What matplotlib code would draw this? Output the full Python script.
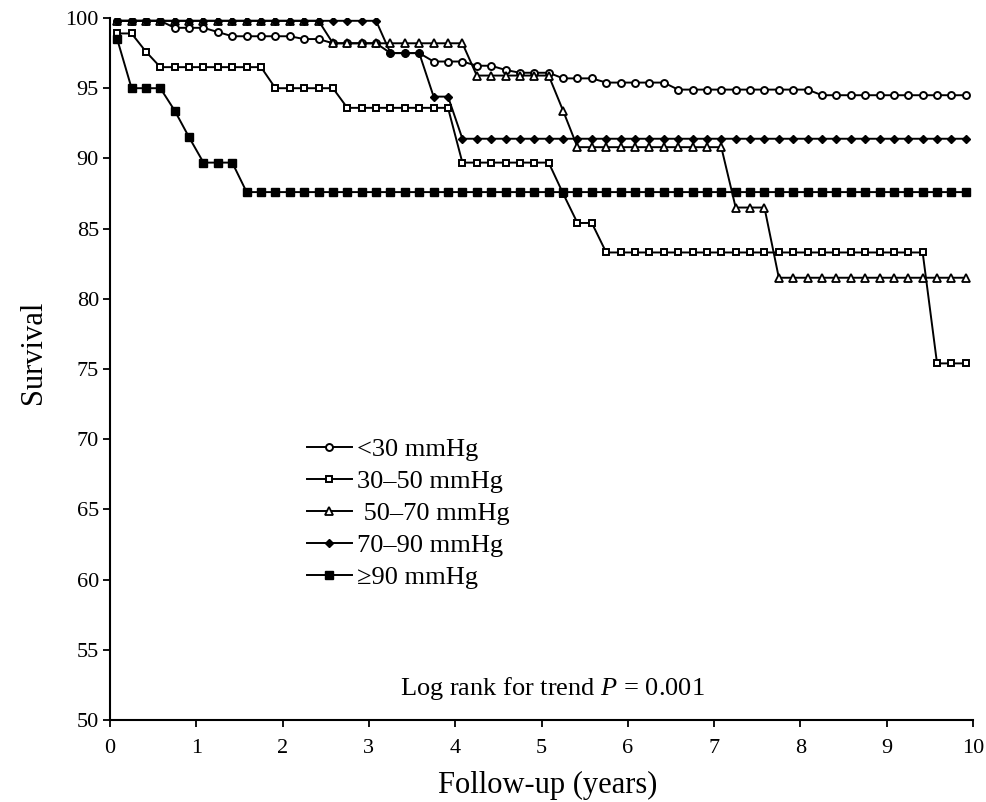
import matplotlib
matplotlib.use("Agg")
import matplotlib.pyplot as plt
import numpy as np

# follow-up sampled every 2 months (midpoints)
months = np.arange(1, 120, 2)
years = months / 12

# survival (%) per group
lt30 = [99.8] * 4 + [99.3] * 3 + [99.0] + [98.7] * 5 + [98.5] * 2 + [98.2] * 4 + \
       [97.5] * 3 + [96.9] * 3 + [96.6] * 2 + [96.3] + [96.1] * 3 + [95.7] * 3 + \
       [95.4] * 5 + [94.9] * 10 + [94.5] * 11
g30_50 = [98.9] * 2 + [97.6] + [96.5] * 8 + [95.0] * 5 + [93.6] * 8 + [89.7] * 7 + \
         [87.5] + [85.4] * 2 + [83.3] * 23 + [75.4] * 3
g50_70 = [99.8] * 15 + [98.2] * 10 + [95.9] * 6 + [93.4] + [90.8] * 11 + [86.5] * 3 + \
         [81.5] * 14
g70_90 = [99.8] * 19 + [97.5] * 3 + [94.4] * 2 + [91.4] * 36
ge90 = [98.5] + [95.0] * 3 + [93.4] + [91.5] + [89.7] * 3 + [87.6] * 51

labels = ["<30 mmHg", "30\u201350 mmHg", " 50\u201370 mmHg", "70\u201390 mmHg", "\u226590 mmHg"]
yticks = list(range(50, 101, 5))
xticks = list(range(0, 11))

plt.rcParams["font.family"] = ["Liberation Serif", "DejaVu Serif"]
plt.rcParams["mathtext.fontset"] = "custom"
plt.rcParams["mathtext.rm"] = "Liberation Serif"
plt.rcParams["mathtext.it"] = "Liberation Serif:italic"

fig = plt.figure(figsize=(9.86, 8.02), dpi=100)
ax = fig.add_axes([110 / 986, 1 - 720 / 802, 863 / 986, 702 / 802])

lw = 1.4
ax.plot(years, lt30, color="black", lw=lw, marker="o", ms=5, mfc="white", mec="black", mew=1.4, label=labels[0])
ax.plot(years, g30_50, color="black", lw=lw, marker="s", ms=5, mfc="white", mec="black", mew=1.4, label=labels[1])
ax.plot(years, g50_70, color="black", lw=lw, marker="^", ms=6, mfc="white", mec="black", mew=1.3, label=labels[2])
ax.plot(years, g70_90, color="black", lw=lw, marker="D", ms=4, mfc="black", mec="black", label=labels[3])
ax.plot(years, ge90, color="black", lw=lw, marker="s", ms=6, mfc="black", mec="black", label=labels[4])

ax.set_xlim(0, 10)
ax.set_ylim(50, 100)
ax.set_xticks(xticks)
ax.set_yticks(yticks)
ax.spines["top"].set_visible(False)
ax.spines["right"].set_visible(False)
ax.spines["left"].set_linewidth(1.5)
ax.spines["bottom"].set_linewidth(1.5)
ax.tick_params(axis="both", direction="out", length=5, width=1.3, labelsize=16)
ax.tick_params(axis="x", pad=9)
ax.tick_params(axis="y", pad=3)

ax.set_ylabel("Survival", fontsize=22)
ax.yaxis.set_label_coords(-0.072, 0.524)
ax.set_xlabel("Follow-up (years)", fontsize=22)
ax.xaxis.set_label_coords(0.5075, -0.073)

ax.legend(loc="upper left", bbox_to_anchor=(0.228, 0.402), frameon=False, fontsize=19,
          numpoints=1, handlelength=1.7, handletextpad=0.2, labelspacing=0.32,
          borderpad=0, borderaxespad=0)

fig.text(552 / 986, 1 - 688 / 802, r"Log rank for trend $P$ = 0.001", fontsize=19,
         ha="center", va="center")

fig.savefig("out.png", dpi=100)
